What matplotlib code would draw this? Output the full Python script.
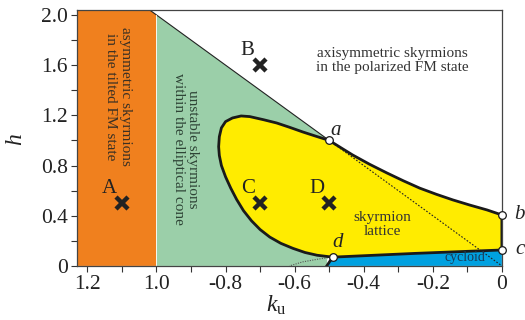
import matplotlib
matplotlib.use("Agg")
import matplotlib.pyplot as plt
import numpy as np

plt.rcParams['font.family'] = ['Liberation Serif', 'DejaVu Serif']
plt.rcParams['mathtext.fontset'] = 'custom'
plt.rcParams['mathtext.it'] = 'Liberation Serif:italic'
plt.rcParams['mathtext.rm'] = 'Liberation Serif'

# ---- data ----
xticks = [-1.2, -1.0, -0.8, -0.6, -0.4, -0.2, 0.0]
xticklabels = ["1.2", "1.0", "-0.8", "-0.6", "-0.4", "-0.2", "0"]
yticks = [0, 0.4, 0.8, 1.2, 1.6, 2.0]
yticklabels = ["0", "0.4", "0.8", "1.2", "1.6", "2.0"]

# special points a, b, c, d
pt_names = ["a", "b", "c", "d"]
pt_k = [-0.5, 0.0, 0.0, -0.49]
pt_h = [1.0, 0.406, 0.127, 0.07]

# skyrmion lattice boundary (closed), starting at a going clockwise
lat_k = [-0.5, -0.465, -0.432, -0.383, -0.333, -0.285, -0.238, -0.19, -0.142,
         -0.093, -0.043, 0.0, 0.0, -0.25, -0.49,
         -0.535, -0.570, -0.605, -0.640, -0.672, -0.700, -0.725, -0.748, -0.768,
         -0.785, -0.800, -0.812, -0.818, -0.820, -0.818, -0.812, -0.800, -0.780,
         -0.755, -0.730, -0.690, -0.652, -0.615, -0.577, -0.540]
lat_h = [1.0, 0.94, 0.884, 0.81, 0.741, 0.678, 0.62, 0.571, 0.526,
         0.485, 0.446, 0.406, 0.127, 0.10, 0.07,
         0.085, 0.107, 0.14, 0.18, 0.23, 0.29, 0.36, 0.44, 0.53,
         0.62, 0.71, 0.80, 0.88, 0.95, 1.03, 1.10, 1.15, 1.179,
         1.195, 1.19, 1.165, 1.139, 1.105, 1.068, 1.035]

# cycloid region
cyc_k = [-0.507, -0.49, -0.25, 0.0, 0.0]
cyc_h = [0.0, 0.07, 0.10, 0.127, 0.0]

# line h = -2 k (elliptical cone stability limit)
line_k = [-1.02, -0.5, 0.0]
line_h = [2.04, 1.0, 0.0]

# dotted continuation below d
dcur_k = [-0.49, -0.53, -0.577, -0.615]
dcur_h = [0.07, 0.055, 0.032, 0.0]

# crosses
cross_names = ["A", "B", "C", "D"]
cross_k = [-1.1, -0.7, -0.7, -0.5]
cross_h = [0.5, 1.6, 0.5, 0.5]

orange = "#F0801E"
green = "#9BCFA9"
yellow = "#FFEC00"
blue = "#00A1E0"

fig = plt.figure(figsize=(5.25, 3.2), dpi=100)
ax = fig.add_axes([0.1467, 0.169, 0.8093, 0.8])
xmin, xmax, ymin, ymax = -1.23, 0.0, 0.0, 2.04
ax.set_xlim(xmin, xmax)
ax.set_ylim(ymin, ymax)

# orange region (left of k=-1, below the line)
ax.fill([xmin, xmin, line_k[0], -1.0, -1.0], [0, ymax, ymax, 2.0, 0],
        color=orange, lw=0, zorder=1)
# green region
ax.fill([-1.0, -1.0, line_k[1], -0.5, -0.507], [0, 2.0, line_h[1], 0.3, 0],
        color=green, lw=0, zorder=1)
# yellow lattice
ax.fill(lat_k, lat_h, color=yellow, lw=0, zorder=2)
# blue cycloid
ax.fill(cyc_k, cyc_h, color=blue, lw=0, zorder=2)

# thin lines
ax.plot(line_k[:2], line_h[:2], color="#222222", lw=0.8, zorder=3)
ax.plot(line_k[1:], line_h[1:], color="#222222", lw=0.8, ls=(0, (1.5, 1.5)), zorder=4)
ax.plot(dcur_k, dcur_h, color="#555555", lw=0.8, ls=(0, (1, 1.2)), zorder=4)
ax.plot([-1.0, -1.0], [0, 2.0], color="#ffffff", lw=0.6, zorder=3)

# thick outlines
ax.plot(lat_k + [lat_k[0]], lat_h + [lat_h[0]], color="#1a1a1a", lw=2.0, zorder=5,
        solid_joinstyle="round")
ax.plot(cyc_k[:2], cyc_h[:2], color="#1a1a1a", lw=2.0, zorder=5)

# special points
ax.plot(pt_k, pt_h, "o", ms=5.5, mfc="white", mec="#1a1a1a", mew=0.9, zorder=7,
        clip_on=False)
lab_off = {"a": (0.02, 0.076), "b": (0.052, 0.004), "c": (0.052, 0.0), "d": (0.015, 0.113)}
for n, k, h in zip(pt_names, pt_k, pt_h):
    dx, dy = lab_off[n]
    ax.text(k + dx, h + dy, n, fontsize=15, fontstyle="italic", ha="center",
            va="center", color="#222222", zorder=8, clip_on=False)

# crosses
ax.plot(cross_k, cross_h, "x", ms=9, mew=3.2, color="#222222", zorder=7)
for n, k, h in zip(cross_names, cross_k, cross_h):
    ax.text(k - 0.036, h + 0.12, n, fontsize=15, ha="center", va="center",
            color="#222222", zorder=8)

# region texts
ax.text(-1.112, 1.35, "asymmetric skyrmions\nin the tilted FM state", rotation=-90,
        fontsize=11, ha="center", va="center", color="#3a3024", linespacing=1.15, zorder=6)
ax.text(-0.916, 0.93, "unstable skyrmions\nwithin the elliptical cone", rotation=-90,
        fontsize=11, ha="center", va="center", color="#2e4436", linespacing=1.15, zorder=6)
ax.text(-0.318, 1.635, "axisymmetric skyrmions\nin the polarized FM state",
        fontsize=11, ha="center", va="center", color="#333333", linespacing=1.15, zorder=6)
ax.text(-0.345, 0.33, "skyrmion\nlattice", fontsize=11, ha="center", va="center",
        color="#333333", linespacing=1.1, zorder=6)
ax.text(-0.107, 0.064, "cycloid", fontsize=10, ha="center", va="center",
        color="#1a3a55", zorder=6)

# axes styling
ax.set_xticks(xticks)
ax.set_xticklabels(xticklabels)
ax.set_yticks(yticks)
ax.set_yticklabels(yticklabels)
ax.set_xticks(np.arange(-1.2, 0.01, 0.1), minor=True)
ax.set_yticks(np.arange(0.2, 2.0, 0.4), minor=True)
ax.tick_params(which="both", direction="out", length=4.5, width=0.8, color="#333333",
               labelsize=15.5, labelcolor="#222222", pad=2)
for s in ax.spines.values():
    s.set_linewidth(0.9)
    s.set_color("#444444")
    s.set_zorder(6)

ax.text(0.47, -0.155, r"$k_\mathrm{u}$", fontsize=17, ha="center", va="center",
        color="#222222", transform=ax.transAxes)
ax.text(-0.1435, 0.492, r"$h$", fontsize=17, ha="center", va="center", rotation=90,
        color="#222222", transform=ax.transAxes)

fig.savefig("out.png", dpi=100)
